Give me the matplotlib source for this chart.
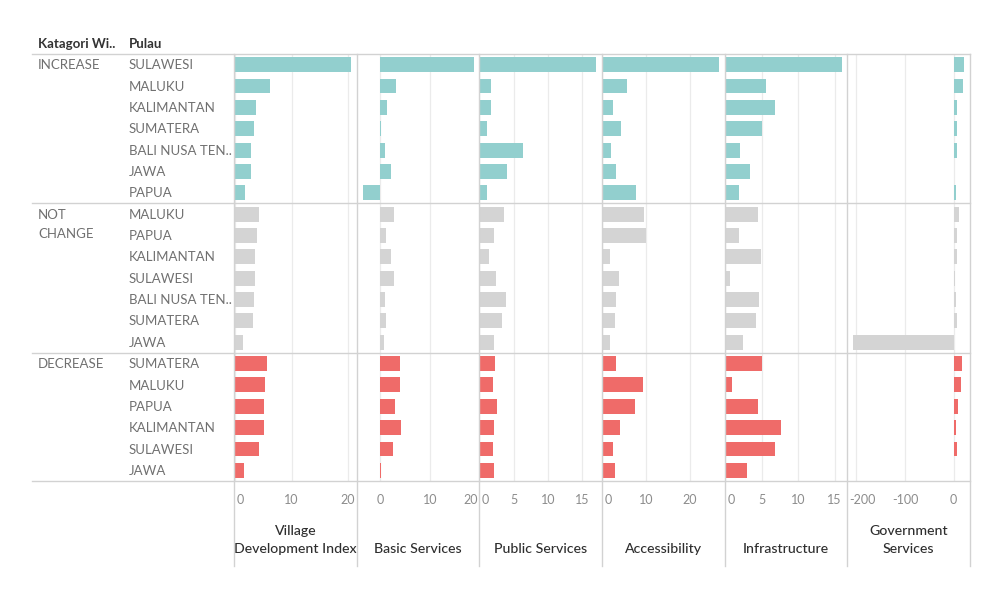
import matplotlib
matplotlib.use("Agg")
import matplotlib.pyplot as plt
from matplotlib.lines import Line2D

plt.rcParams['font.family'] = ['Lato', 'DejaVu Sans']

# ---------------- data ----------------
categories = ["INCREASE", "NOT CHANGE", "DECREASE"]
islands_increase = ["SULAWESI", "MALUKU", "KALIMANTAN", "SUMATERA", "BALI NUSA TEN..", "JAWA", "PAPUA"]
islands_not_change = ["MALUKU", "PAPUA", "KALIMANTAN", "SULAWESI", "BALI NUSA TEN..", "SUMATERA", "JAWA"]
islands_decrease = ["SUMATERA", "MALUKU", "PAPUA", "KALIMANTAN", "SULAWESI", "JAWA"]

measures = ["Village\nDevelopment Index", "Basic Services", "Public Services",
            "Accessibility", "Infrastructure", "Government\nServices"]

village_dev_index = [20.5, 6.2, 3.7, 3.35, 2.9, 2.9, 1.76,
                     4.3, 3.9, 3.6, 3.6, 3.35, 3.1, 1.35,
                     5.6, 5.35, 5.1, 5.1, 4.2, 1.6]
basic_services = [18.7, 3.1, 1.3, 0.2, 0.9, 2.2, -3.5,
                  2.7, 1.1, 2.1, 2.7, 0.9, 1.1, 0.7,
                  3.9, 3.9, 2.9, 4.1, 2.5, 0.1]
public_services = [17.0, 1.75, 1.75, 1.1, 6.3, 4.0, 1.1,
                   3.6, 2.2, 1.4, 2.4, 3.9, 3.3, 2.1,
                   2.3, 1.95, 2.6, 2.1, 1.95, 2.1]
accessibility = [26.6, 5.7, 2.4, 4.4, 2.1, 3.3, 7.8,
                 9.5, 10.1, 1.8, 3.9, 3.1, 2.9, 1.8,
                 3.3, 9.3, 7.55, 4.2, 2.6, 2.9]
infrastructure = [16.0, 5.6, 6.8, 5.1, 2.0, 3.4, 1.9,
                  4.5, 1.9, 4.95, 0.65, 4.7, 4.2, 2.5,
                  5.0, 0.9, 4.5, 7.6, 6.8, 3.0]
government_services = [21, 19, 7.5, 7.5, 7.5, 0.8, 5.5,
                       10.3, 7.5, 7.5, 2.7, 5.5, 7.5, -207,
                       17, 14.4, 9.6, 5.5, 7.5, 1.5]

ticks = [[0, 10, 20], [0, 10, 20], [0, 5, 10, 15], [0, 10, 20], [0, 5, 10, 15], [-200, -100, 0]]
xlims = [(-0.2, 21.6), (-4.6, 19.8), (-0.05, 17.9), (0, 28), (0, 16.7), (-219, 33.5)]

cat_colors = {"INCREASE": "#92cfce", "NOT CHANGE": "#d4d4d4", "DECREASE": "#ef6b69"}

groups = [islands_increase, islands_not_change, islands_decrease]
series = [village_dev_index, basic_services, public_services,
          accessibility, infrastructure, government_services]

# ---------------- layout (pixels) ----------------
W, H = 996, 590
TOP, BOT = 54, 481
LEFT = 32
XB = [234, 357, 479, 602, 725, 847, 970]
n_rows = sum(len(g) for g in groups)
row_h = (BOT - TOP) / n_rows

fig = plt.figure(figsize=(W / 100, H / 100), dpi=100)


def fx(p):
    return p / W


def fy(p):
    return 1 - p / H


def hline(y, x0, x1, color="#d2d2d2", lw=1.0):
    fig.add_artist(Line2D([fx(x0), fx(x1)], [fy(y), fy(y)], color=color, lw=lw,
                          transform=fig.transFigure, zorder=5))


def vline(x, y0, y1, color="#d2d2d2", lw=1.0):
    fig.add_artist(Line2D([fx(x), fx(x)], [fy(y0), fy(y1)], color=color, lw=lw,
                          transform=fig.transFigure, zorder=5))


row_colors = []
row_labels = []
for cat, g in zip(categories, groups):
    row_colors += [cat_colors[cat]] * len(g)
    row_labels += g

label_color = "#707070"
fs_lab = 9.5

# headers
fig.text(fx(38), fy(47.5), "Katagori Wi..", fontsize=9.5, color="#333333", fontweight="bold", va="baseline")
fig.text(fx(129), fy(47.5), "Pulau", fontsize=9.5, color="#333333", fontweight="bold", va="baseline")

# row labels
r = 0
for cat, g in zip(categories, groups):
    for k, word in enumerate(cat.split()):
        yc = TOP + (r + 0.5) * row_h + k * 19.3
        fig.text(fx(38), fy(yc + 4.6), word, fontsize=fs_lab, color=label_color, va="baseline")
    for isl in g:
        yc = TOP + (r + 0.5) * row_h
        fig.text(fx(129), fy(yc + 4.6), isl, fontsize=fs_lab, color=label_color, va="baseline")
        r += 1

# panels
axes = []
tick_texts = []
for i, (vals, m) in enumerate(zip(series, measures)):
    x0, x1 = XB[i], XB[i + 1]
    ax = fig.add_axes([fx(x0), fy(BOT), fx(x1 - x0), (BOT - TOP) / H])
    ax.set_xlim(*xlims[i])
    ax.set_ylim(n_rows - 0.5, -0.5)
    for t in ticks[i]:
        ax.axvline(t, color="#ebebeb", lw=0.9, zorder=0)
    ax.barh(range(n_rows), vals, height=0.7, color=row_colors, zorder=2)
    ax.set_xticks([])
    ax.set_yticks([])
    for s in ax.spines.values():
        s.set_visible(False)
    ax.patch.set_alpha(0)
    axes.append(ax)
    lst = []
    for t in ticks[i]:
        px = ax.transData.transform((t, 0))[0]
        tt = fig.text(fx(px), fy(503.5), f"{t}", fontsize=9, color="#8c8c8c",
                      ha="center", va="baseline")
        lst.append((tt, px))
    tick_texts.append(lst)
    fig.text(fx((x0 + x1) / 2), fy(553.3), m, fontsize=10.2, color="#2e2e2e",
             fontweight="medium", ha="center", va="baseline",
             multialignment="center", linespacing=1.6)

# shift edge tick labels inside their panel, as Tableau does
fig.canvas.draw()
rend = fig.canvas.get_renderer()
for i, lst in enumerate(tick_texts):
    x0, x1 = XB[i], XB[i + 1]
    for tt, px in lst:
        bb = tt.get_window_extent(rend)
        shift = 0
        if bb.x0 < x0 + 2.5:
            shift = x0 + 2.5 - bb.x0
        elif bb.x1 > x1 - 1.5:
            shift = (x1 - 1.5) - bb.x1
        if shift:
            tt.set_x(fx(px + shift))

# grid lines of the table
for y in [TOP, TOP + 7 * row_h, TOP + 14 * row_h, BOT]:
    hline(y, LEFT, XB[-1])
for x in XB:
    vline(x, TOP, 566)

fig.savefig("out.png", dpi=100, facecolor="white")
